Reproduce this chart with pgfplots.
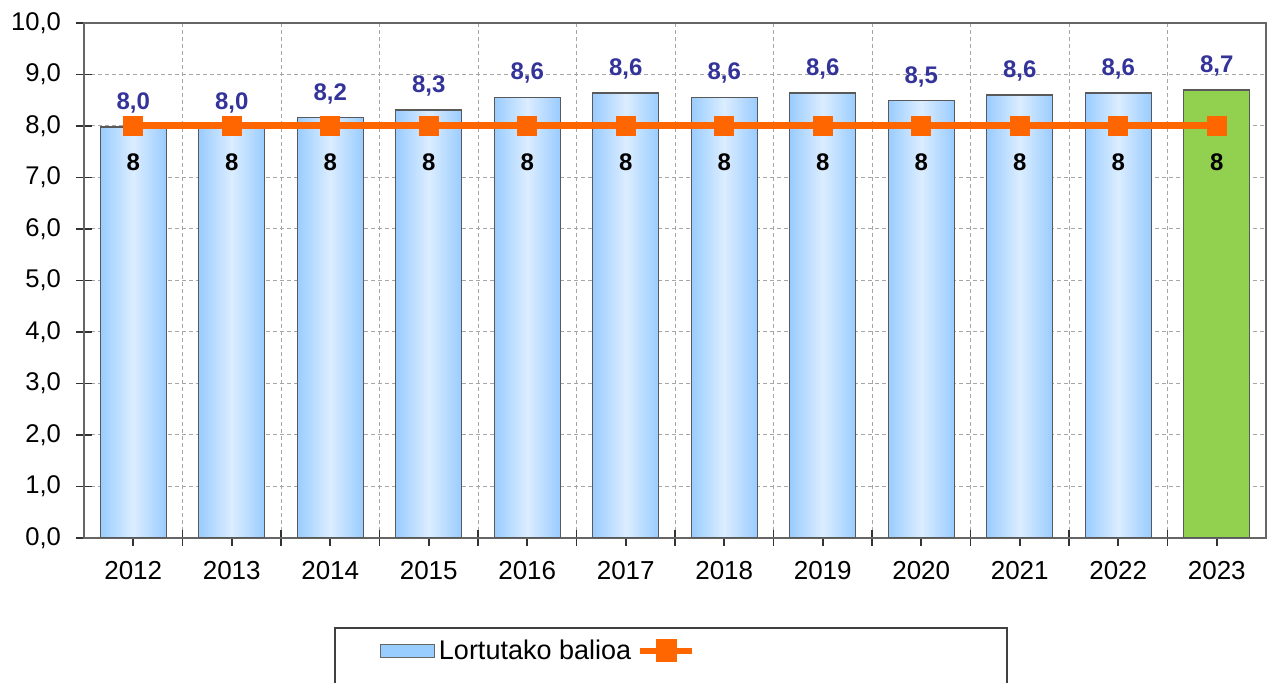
\documentclass[border=0pt]{standalone}
\usepackage{fontspec}
\setmainfont{Liberation Sans}
\usepackage{pgfplots}
\pgfplotsset{compat=1.18}
\definecolor{barblue}{HTML}{99CCFF}
\definecolor{barlight}{HTML}{DCEDFF}
\definecolor{bargreen}{HTML}{92D050}
\definecolor{lineor}{HTML}{FF6600}
\definecolor{lblblue}{HTML}{333399}
\definecolor{gridgray}{HTML}{A6A6A6}
\pgfplotsset{
  barbase/.style={ybar, bar width=33pt, bar shift=0pt, draw=black!65, line width=0.6pt,
    nodes near coords,
    every node near coord/.append style={anchor=center, yshift=12pt, text=lblblue,
      font=\fontsize{12}{14}\selectfont\bfseries}},
  bluebar/.style={barbase, left color=barblue, right color=barblue, middle color=barlight},
}
\begin{document}
\begin{tikzpicture}
\begin{axis}[
  scale only axis,
  width=591pt, height=257.5pt,
  xmin=-0.5, xmax=11.5,
  ymin=0, ymax=10,
  xtick={0,...,11},
  xticklabels={2012,2013,2014,2015,2016,2017,2018,2019,2020,2021,2022,2023},
  minor x tick num=1,
  ytick={0,1,...,10},
  xtick pos=lower, ytick pos=left,
  tick align=center,
  major tick length=8pt,
  minor tick length=8pt,
  ymajorgrids, xminorgrids,
  major grid style={gridgray, dash pattern=on 2pt off 1.5pt, line width=0.5pt},
  minor grid style={gridgray, dash pattern=on 2pt off 1.5pt, line width=0.5pt},
  tick style={black!80, line width=0.8pt},
  axis line style={black!60, line width=0.8pt},
  /pgf/number format/.cd, fixed, fixed zerofill, precision=1, use comma, assume math mode=true,
  /pgfplots/.cd,
  yticklabel style={font=\fontsize{12.8}{15}\selectfont, xshift=-4pt},
  xticklabel style={font=\fontsize{13}{15}\selectfont, yshift=-4pt},
  legend columns=-1,
  legend style={draw=none, fill=none, at={(rel axis cs:0.245,-0.2194)}, anchor=west,
    font=\fontsize{13.5}{16}\selectfont,
    /tikz/every even column/.append style={column sep=1pt}},
]
\addplot[bluebar,
  legend image code/.code={\draw[shading=axis, left color=barblue, right color=barblue, middle color=barblue, draw=black!60, line width=0.5pt] (0pt,-3.25pt) rectangle (27pt,3.25pt);}]
coordinates {(0,7.98)};
\addlegendentry{Lortutako balioa}
\addplot[bluebar, forget plot] coordinates {(1,7.98)};
\addplot[bluebar, forget plot] coordinates {(2,8.16)};
\addplot[bluebar, forget plot] coordinates {(3,8.31)};
\addplot[bluebar, forget plot] coordinates {(4,8.56)};
\addplot[bluebar, forget plot] coordinates {(5,8.64)};
\addplot[bluebar, forget plot] coordinates {(6,8.56)};
\addplot[bluebar, forget plot] coordinates {(7,8.64)};
\addplot[bluebar, forget plot] coordinates {(8,8.49)};
\addplot[bluebar, forget plot] coordinates {(9,8.60)};
\addplot[bluebar, forget plot] coordinates {(10,8.64)};
\addplot[barbase, fill=bargreen, forget plot] coordinates {(11,8.70)};
\addplot[sharp plot, color=lineor, line width=3.5pt, mark=square*, mark size=4.75pt,
  mark options={solid, fill=lineor, draw=lineor, line width=0pt},
  nodes near coords,
  every node near coord/.append style={anchor=center, yshift=-18pt, text=black,
    font=\fontsize{12}{14}\selectfont\bfseries, /pgf/number format/precision=0},
  legend image code/.code={\draw[lineor, line width=3pt] (0pt,0pt) -- (26pt,0pt);
    \fill[lineor] (9.5pt,-4pt) rectangle (16.5pt,4pt);}]
coordinates {(0,8) (1,8) (2,8) (3,8) (4,8) (5,8) (6,8) (7,8) (8,8) (9,8) (10,8) (11,8)};
\addlegendentry{}
\end{axis}
\draw[black!75, line width=0.6pt] (125.5pt,-45pt) rectangle (461.5pt,-100pt);
\pgfresetboundingbox
\path[use as bounding box] (-42pt,-72.5pt) rectangle (595.5pt,269pt);
\end{tikzpicture}
\end{document}
